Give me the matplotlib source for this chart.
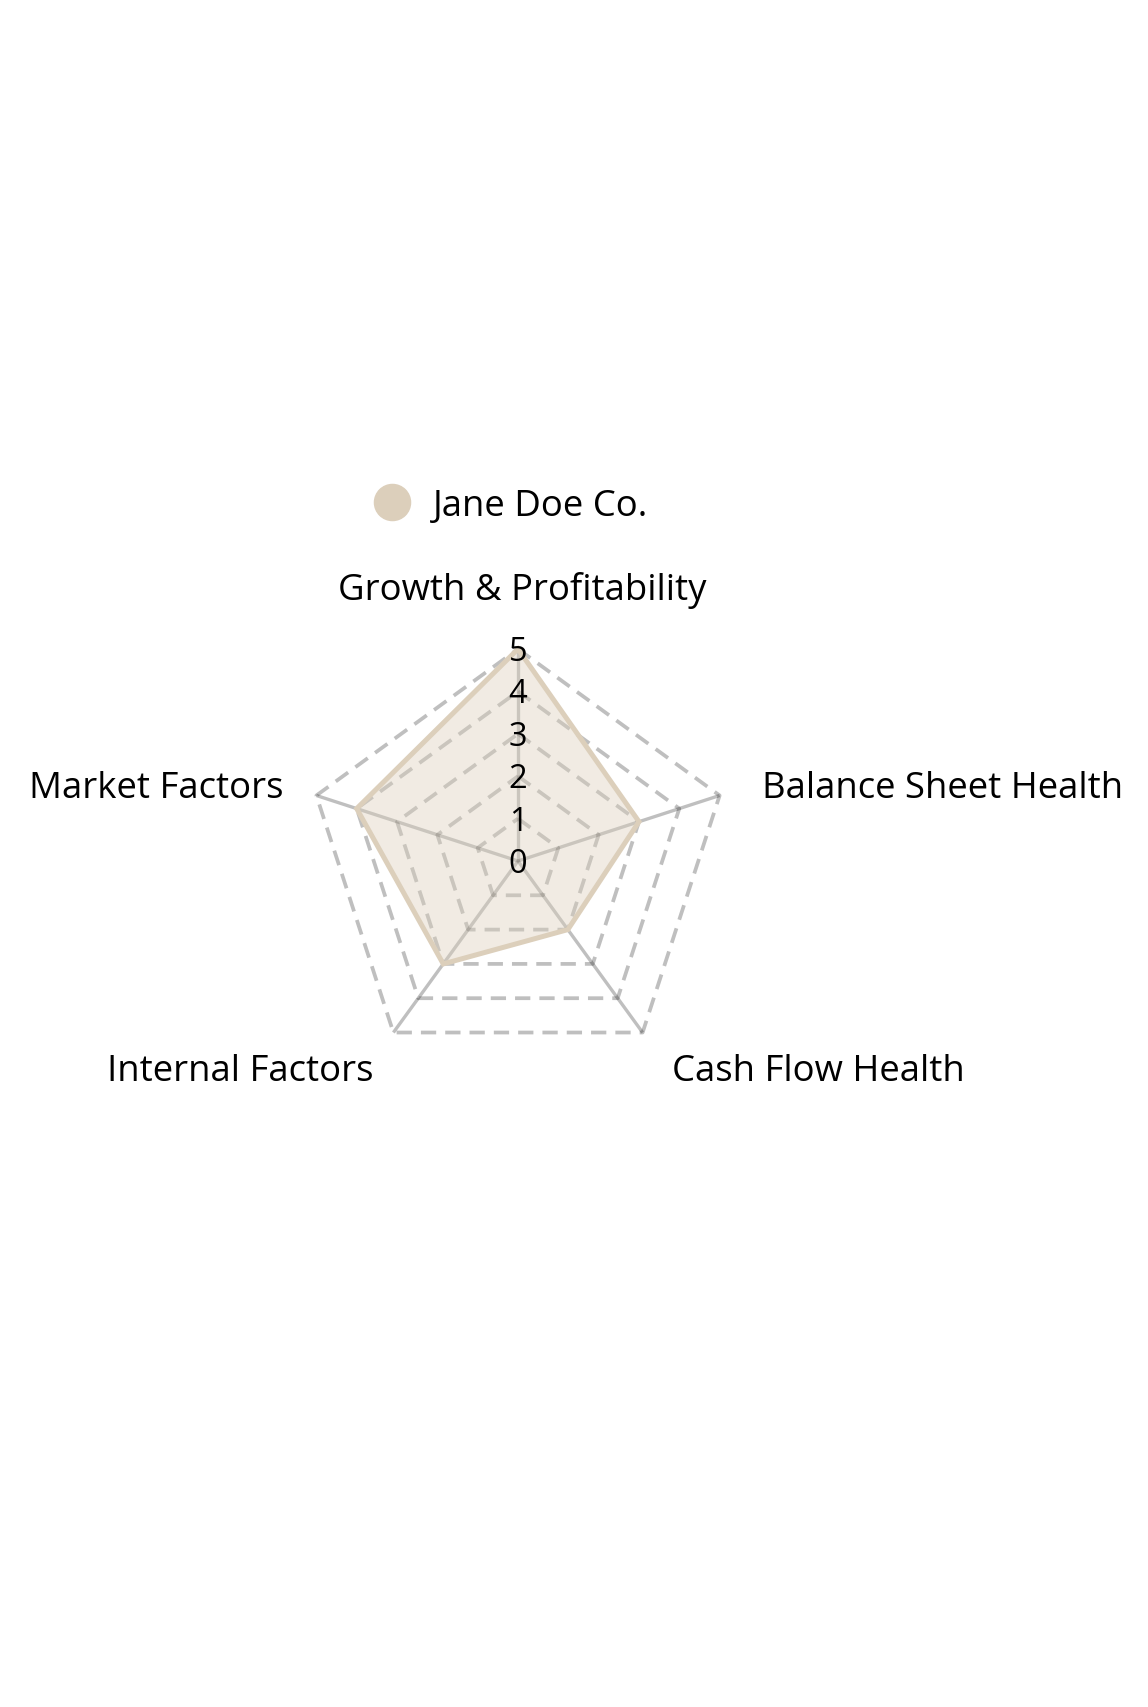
import numpy as np
import matplotlib
matplotlib.use("Agg")
import matplotlib.pyplot as plt
from matplotlib.lines import Line2D

plt.rcParams['font.family'] = ['Open Sans', 'DejaVu Sans']
plt.rcParams['lines.scale_dashes'] = False

categories = ["Growth & Profitability", "Balance Sheet Health", "Cash Flow Health",
              "Internal Factors", "Market Factors"]
values = [5, 3, 2, 3, 4]
series_name = "Jane Doe Co."
radial_ticks = [0, 1, 2, 3, 4, 5]
r_max = 5

W, H, DPI = 1148, 1708, 100
fig = plt.figure(figsize=(W / DPI, H / DPI), dpi=DPI)
ax = fig.add_axes([0, 0, 1, 1])
ax.axis('off')

cx_px, cy_px, R_px = 518, 862, 212
unit = R_px / r_max
ax.set_xlim(-cx_px / unit, (W - cx_px) / unit)
ax.set_ylim(-(H - cy_px) / unit, cy_px / unit)

n = len(categories)
theta = np.deg2rad(90 - 72 * np.arange(n))

def xy(r):
    r = np.asarray(r, dtype=float)
    return r * np.cos(theta), r * np.sin(theta)

grid_col = (0, 0, 0, 0.25)
# dashed pentagon gridlines
for t in radial_ticks[1:]:
    gx, gy = xy([t] * n)
    ax.plot(np.append(gx, gx[0]), np.append(gy, gy[0]), color=grid_col, lw=2.7,
            dashes=[11, 6.5], zorder=1)
# radial spokes
for i in range(n):
    ax.plot([0, r_max * np.cos(theta[i])], [0, r_max * np.sin(theta[i])],
            color=grid_col, lw=2.4, zorder=1, solid_capstyle='butt')

line_col = '#dccfbb'
vx, vy = xy(values)
ax.fill(np.append(vx, vx[0]), np.append(vy, vy[0]), color=line_col, alpha=0.4,
        lw=0, zorder=2)
ax.plot(np.append(vx, vx[0]), np.append(vy, vy[0]), color=line_col, lw=3.6,
        zorder=3, solid_joinstyle='miter')

# radial tick labels
for t in radial_ticks:
    ax.annotate(str(t), xy=(0, t), xytext=(0, -11), textcoords='offset pixels',
                ha='center', va='baseline', fontsize=23.5, color='black', zorder=5)

# angular labels
offsets = [(4, 50, 'center'), (42, -2, 'left'), (29, -47, 'left'),
           (-20, -47, 'right'), (-33, -2, 'right')]
ox, oy = xy([r_max] * n)
for i, cat in enumerate(categories):
    dx, dy, ha = offsets[i]
    ax.annotate(cat, xy=(ox[i], oy[i]), xytext=(dx, dy), textcoords='offset pixels',
                ha=ha, va='baseline', fontsize=26.3, color='black')

# legend
handle = Line2D([], [], linestyle='none', marker='o', markersize=26,
                markerfacecolor=line_col, markeredgecolor=line_col, label=series_name)
leg = ax.legend(handles=[handle], loc='center left', frameon=False,
                bbox_to_anchor=(374 / W, 1 - 507 / H), bbox_transform=fig.transFigure,
                borderpad=0, borderaxespad=0, handlelength=1.0, handletextpad=0.6,
                fontsize=26.3)

fig.savefig("out.png", dpi=DPI, facecolor='white')
